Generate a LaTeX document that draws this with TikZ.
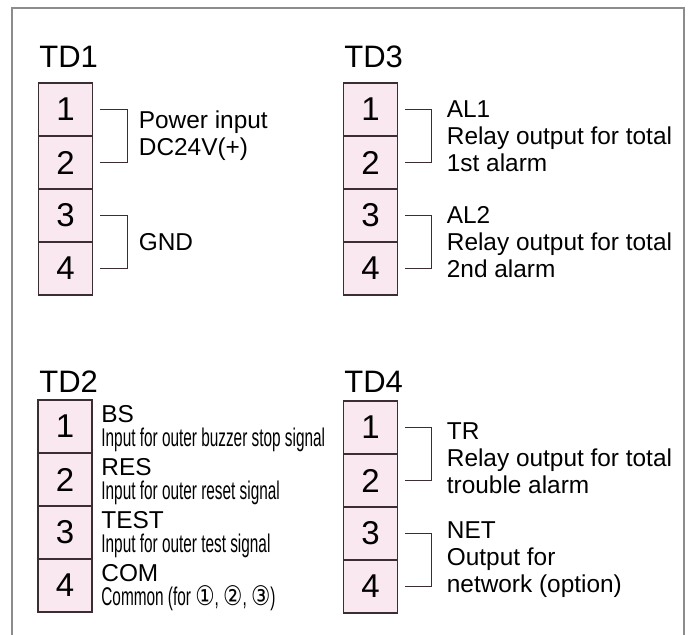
\documentclass[tikz,border=0pt]{standalone}
\usepackage{fontspec}
\setmainfont{Liberation Sans}
\newfontfamily\narrowfont[FakeStretch=0.6]{Liberation Sans}
\newfontfamily\circfont[FakeStretch=0.8]{DejaVu Sans}
\usepackage{xcolor}
\usepackage{tikz}
\usetikzlibrary{positioning}

\definecolor{cellpink}{RGB}{250,232,240}
\definecolor{cellline}{RGB}{60,45,50}
\definecolor{framegray}{RGB}{140,140,140}

\newcommand{\circnum}[1]{{\circfont\fontsize{13.5}{13}\selectfont #1}}

\begin{document}
\begin{tikzpicture}[
  x=0.5pt, y=-0.5pt,
  blocktitle/.style = {anchor=base west, inner sep=0pt, font=\fontsize{15.5}{18}\selectfont},
  cell/.style  = {rectangle, draw=cellline, line width=0.8pt, fill=cellpink,
    minimum width=27pt, minimum height=26.5pt, inner sep=0pt, outer sep=0pt,
    font=\fontsize{16.5}{18}\selectfont},
  pairlbl/.style = {anchor=west, align=left, inner sep=0pt, font=\fontsize{12.2}{13.5}\selectfont},
  pinname/.style = {anchor=base west, inner sep=0pt, font=\fontsize{12.2}{13}\selectfont},
  pindesc/.style = {anchor=base west, inner sep=0pt, font=\narrowfont\fontsize{12.8}{13}\selectfont},
  tie/.style   = {draw=cellline, line width=0.8pt},
  frame/.style = {draw=framegray, line width=1pt},
]
  \useasboundingbox (0,0) rectangle (693,634);
  \draw[frame] (12,640) -- (12,8) -- (684,8) -- (684,640);

  \node[blocktitle] (td1) at (39,67)  {TD1};
  \node[blocktitle] (td3) at (344,67) {TD3};
  \node[blocktitle] (td2) at (39,392) {TD2};
  \node[blocktitle] (td4) at (344,392) {TD4};

  \foreach \blk/\x/\y in {a/65.5/109.5, c/370.5/109.5, b/65/426.5, d/370.5/427.5}
    \foreach \i in {1,...,4}
      \node[cell] (\blk\i) at (\x,{\y+53*(\i-1)}) {\i};

  % TD1
  \draw[tie] ([xshift=4pt]a1.east) -| ([xshift=17.5pt]a2.east) -- ([xshift=4pt]a2.east);
  \draw[tie] ([xshift=4pt]a3.east) -| ([xshift=17.5pt]a4.east) -- ([xshift=4pt]a4.east);
  \node[pairlbl] (pwr) at ([xshift=23pt]a1.south east) {Power input\\DC24V(+)};
  \node[pairlbl] (gnd) at ([xshift=23pt]a3.south east) {GND};

  % TD3
  \draw[tie] ([xshift=4pt]c1.east) -| ([xshift=17pt]c2.east) -- ([xshift=4pt]c2.east);
  \draw[tie] ([xshift=4pt]c3.east) -| ([xshift=17pt]c4.east) -- ([xshift=4pt]c4.east);
  \node[pairlbl] (al1) at ([xshift=24.5pt]c1.south east) {AL1\\Relay output for total\\1st alarm};
  \node[pairlbl] (al2) at ([xshift=24.5pt]c3.south east) {AL2\\Relay output for total\\2nd alarm};

  % TD2
  \node[pinname] (bs)   at ([xshift=4.5pt,yshift=-11pt]b1.north east) {BS};
  \node[pindesc] (bsd)  at ([xshift=4.5pt,yshift=-23pt]b1.north east) {Input for outer buzzer stop signal};
  \node[pinname] (res)  at ([xshift=4.5pt,yshift=-11pt]b2.north east) {RES};
  \node[pindesc] (resd) at ([xshift=4.5pt,yshift=-23pt]b2.north east) {Input for outer reset signal};
  \node[pinname] (tst)  at ([xshift=4.5pt,yshift=-11pt]b3.north east) {TEST};
  \node[pindesc] (tstd) at ([xshift=4.5pt,yshift=-23pt]b3.north east) {Input for outer test signal};
  \node[pinname] (com)  at ([xshift=4.5pt,yshift=-11pt]b4.north east) {COM};
  \node[pindesc] (comd) at ([xshift=4.5pt,yshift=-23.3pt]b4.north east)
    {Common (for \circnum{①}, \circnum{②}, \circnum{③})};

  % TD4
  \draw[tie] ([xshift=4pt]d1.east) -| ([xshift=17pt]d2.east) -- ([xshift=4pt]d2.east);
  \draw[tie] ([xshift=4pt]d3.east) -| ([xshift=17pt]d4.east) -- ([xshift=4pt]d4.east);
  \node[pairlbl] (tr)  at ([xshift=24.5pt,yshift=-2pt]d1.south east) {TR\\Relay output for total\\trouble alarm};
  \node[pairlbl] (net) at ([xshift=24.5pt]d3.south east) {NET\\Output for\\network (option)};
\end{tikzpicture}
\end{document}
